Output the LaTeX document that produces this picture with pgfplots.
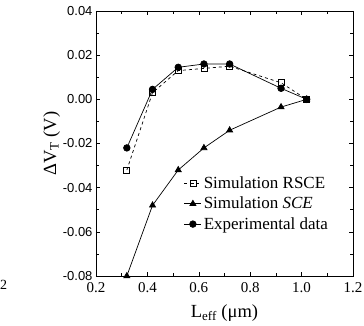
\documentclass[border=0pt]{standalone}
\usepackage{fontspec}
\setmainfont{Liberation Serif}
\setsansfont{Liberation Sans}
\usepackage{pgfplots}
\pgfplotsset{compat=1.18}
\begin{document}
\begin{tikzpicture}
\begin{axis}[
  name=ax,
  scale only axis,
  width=257pt, height=265pt,
  xmin=0.2, xmax=1.2, ymin=-0.08, ymax=0.04,
  xtick={0.2,0.4,...,1.2},
  ytick={-0.08,-0.06,...,0.04},
  minor x tick num=1, minor y tick num=1,
  tick align=inside,
  tick style={black, line width=0.6pt},
  axis line style={line width=0.8pt},
  /pgf/number format/assume math mode=true,
  xticklabel style={font=\fontsize{15}{17}\selectfont, yshift=-3pt, /pgf/number format/.cd, fixed, fixed zerofill, precision=1},
  yticklabel style={font=\sffamily\fontsize{13}{15}\selectfont, /pgf/number format/.cd, fixed, fixed zerofill, precision=2},
  scaled y ticks=false,
  xlabel={L\textsubscript{eff} (μm)},
  ylabel={ΔV\textsubscript{T} (V)},
  label style={font=\fontsize{18.5}{20}\selectfont},
  xlabel style={yshift=-5pt},
  ylabel style={yshift=-4pt},
  legend style={draw=none, fill=none, at={(0.33,0.39)}, anchor=north west,
    font=\fontsize{17}{19}\selectfont, row sep=3pt},
  legend cell align=left,
]
\addplot[black, dashed, line width=0.7pt, mark=square, mark size=3pt, mark options={solid, fill=white}]
 coordinates {(0.32,-0.032) (0.42,0.003) (0.52,0.013) (0.62,0.014) (0.72,0.015) (0.92,0.0075) (1.02,0.0)};
\addlegendentry{Simulation RSCE}
\addplot[black, line width=0.7pt, mark=triangle*, mark size=3.5pt]
 coordinates {(0.32,-0.080) (0.42,-0.048) (0.52,-0.032) (0.62,-0.022) (0.72,-0.014) (0.92,-0.0035) (1.02,0.0)};
\addlegendentry{Simulation \textit{SCE}}
\addplot[black, line width=0.7pt, mark=*, mark size=3.3pt]
 coordinates {(0.32,-0.022) (0.42,0.0045) (0.52,0.0145) (0.62,0.016) (0.72,0.016) (0.92,0.005) (1.02,0.0)};
\addlegendentry{Experimental data}
\end{axis}
\node[anchor=west, font=\fontsize{14}{16}\selectfont, inner sep=0pt] at ([shift={(-96pt,-9pt)}]ax.south west) {2};
\pgfresetboundingbox
\path[use as bounding box] ([shift={(-96pt,-49pt)}]ax.south west) rectangle ([shift={(11pt,11pt)}]ax.north east);
\end{tikzpicture}
\end{document}
